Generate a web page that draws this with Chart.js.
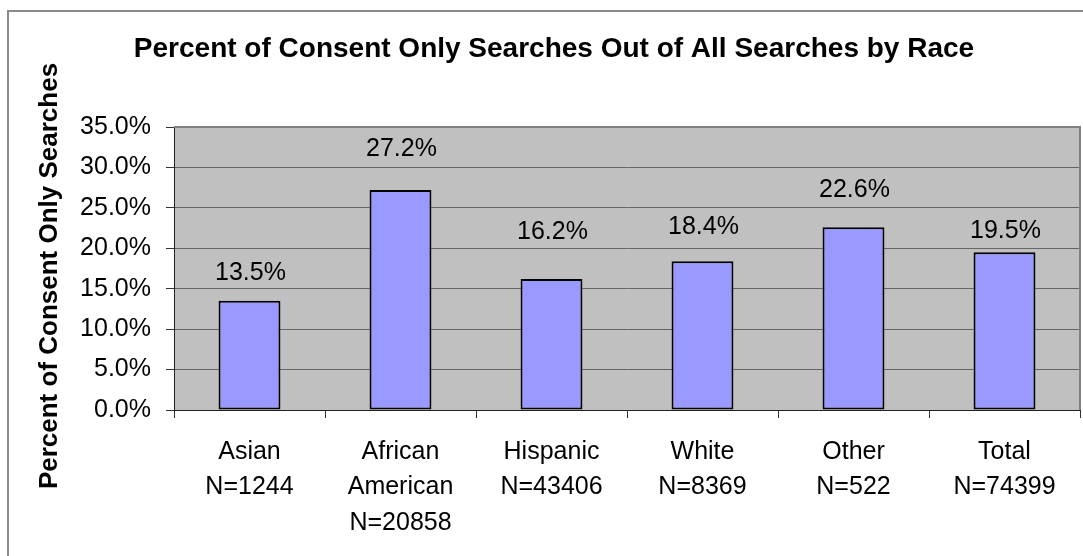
<!DOCTYPE html>
<html>
<head>
<meta charset="utf-8">
<title>Consent Only Searches by Race</title>
<script src="https://cdn.jsdelivr.net/npm/chart.js@4/dist/chart.umd.min.js"></script>
<style>
    html, body {
        margin: 0;
        padding: 0;
        background: #ffffff;
    }
    #chart-wrap {
        width: 1083px;
        height: 556px;
    }
</style>
</head>
<body>
<div id="chart-wrap">
    <canvas id="consent-chart" width="1083" height="556"></canvas>
</div>
<script>
    'use strict';

    var races = ['Asian', 'African American', 'Hispanic', 'White', 'Other', 'Total'];
    var sampleSizes = [1244, 20858, 43406, 8369, 522, 74399];
    var consentPercents = [13.5, 27.2, 16.2, 18.4, 22.6, 19.5];
    var yTicks = [0, 5, 10, 15, 20, 25, 30, 35];

    var FONT = "'Liberation Sans', Arial, sans-serif";

    // category labels: race name (split on spaces) then the N count
    var categoryLabels = races.map(function (race, i) {
        return race.split(' ').concat(['N=' + sampleSizes[i]]);
    });

    // gray plot area with the frame on top and right, plus outer chart border
    var frame = {
        id: 'frame',
        beforeDraw: function (chart) {
            var ctx = chart.ctx;
            var area = chart.chartArea;
            ctx.save();
            ctx.fillStyle = '#ffffff';
            ctx.fillRect(0, 0, chart.width, chart.height);
            ctx.strokeStyle = '#8a8a8a';
            ctx.lineWidth = 2;
            ctx.strokeRect(8, 11, chart.width + 20, chart.height + 20);
            ctx.fillStyle = '#c0c0c0';
            ctx.fillRect(area.left, area.top, area.right - area.left, area.bottom - area.top);
            ctx.restore();
        },
        afterDraw: function (chart) {
            var ctx = chart.ctx;
            var area = chart.chartArea;
            ctx.save();
            ctx.strokeStyle = '#808080';
            ctx.lineWidth = 2;
            ctx.beginPath();
            ctx.moveTo(area.left, area.top);
            ctx.lineTo(area.right, area.top);
            ctx.lineTo(area.right, area.bottom);
            ctx.stroke();
            ctx.restore();
        }
    };

    // chart title and the rotated y axis title
    var captions = {
        id: 'captions',
        afterDraw: function (chart, args, opts) {
            var ctx = chart.ctx;
            ctx.save();
            ctx.fillStyle = '#000000';
            ctx.textAlign = 'center';
            ctx.textBaseline = 'middle';
            ctx.font = 'bold 28px ' + FONT;
            ctx.fillText(opts.title, opts.titleX, opts.titleY);
            ctx.translate(opts.axisX, opts.axisY);
            ctx.rotate(-Math.PI / 2);
            ctx.font = 'bold 26px ' + FONT;
            ctx.fillText(opts.axisTitle, 0, 0);
            ctx.restore();
        }
    };

    // value labels above each bar
    var valueLabels = {
        id: 'valueLabels',
        afterDatasetsDraw: function (chart, args, opts) {
            var ctx = chart.ctx;
            var meta = chart.getDatasetMeta(0);
            var values = chart.data.datasets[0].data;
            ctx.save();
            ctx.fillStyle = '#000000';
            ctx.font = '25px ' + FONT;
            ctx.textAlign = 'center';
            ctx.textBaseline = 'middle';
            meta.data.forEach(function (bar, i) {
                var lift = opts.lift[i] || 30;
                ctx.fillText(values[i].toFixed(1) + '%', bar.x + 1, bar.y - lift);
            });
            ctx.restore();
        }
    };

    new Chart(document.getElementById('consent-chart'), {
        type: 'bar',
        data: {
            labels: categoryLabels,
            datasets: [{
                data: consentPercents,
                backgroundColor: '#9999ff',
                borderColor: '#000000',
                borderWidth: 2,
                borderSkipped: false,
                barPercentage: 0.41,
                categoryPercentage: 1.0
            }]
        },
        options: {
            responsive: false,
            animation: false,
            layout: {
                padding: { top: 127, right: 3, bottom: 0, left: 0 }
            },
            plugins: {
                legend: { display: false },
                tooltip: { enabled: false },
                captions: {
                    title: 'Percent of Consent Only Searches Out of All Searches by Race',
                    titleX: 554,
                    titleY: 49,
                    axisTitle: 'Percent of Consent Only Searches',
                    axisX: 50,
                    axisY: 276
                },
                valueLabels: {
                    lift: [28, 41, 47, 34, 37, 21]
                }
            },
            scales: {
                x: {
                    afterFit: function (scale) {
                        scale.height = 146;
                    },
                    grid: {
                        display: true,
                        offset: true,
                        drawOnChartArea: false,
                        drawTicks: true,
                        tickLength: 8,
                        tickColor: '#333333',
                        lineWidth: 1
                    },
                    border: { color: '#222222', width: 1 },
                    ticks: {
                        color: '#000000',
                        padding: 16,
                        maxRotation: 0,
                        autoSkip: false,
                        font: { family: FONT, size: 25, lineHeight: 1.42 }
                    }
                },
                y: {
                    min: 0,
                    max: 35,
                    afterFit: function (scale) {
                        scale.width = 174;
                    },
                    afterBuildTicks: function (scale) {
                        scale.ticks = yTicks.map(function (v) {
                            return { value: v };
                        });
                    },
                    grid: {
                        color: '#666666',
                        lineWidth: 1,
                        drawTicks: true,
                        tickLength: 8,
                        tickColor: '#333333'
                    },
                    border: { color: '#222222', width: 1 },
                    ticks: {
                        color: '#000000',
                        padding: 15,
                        font: { family: FONT, size: 25 },
                        callback: function (value) {
                            return value.toFixed(1) + '%';
                        }
                    }
                }
            }
        },
        plugins: [frame, captions, valueLabels]
    });
</script>
</body>
</html>
